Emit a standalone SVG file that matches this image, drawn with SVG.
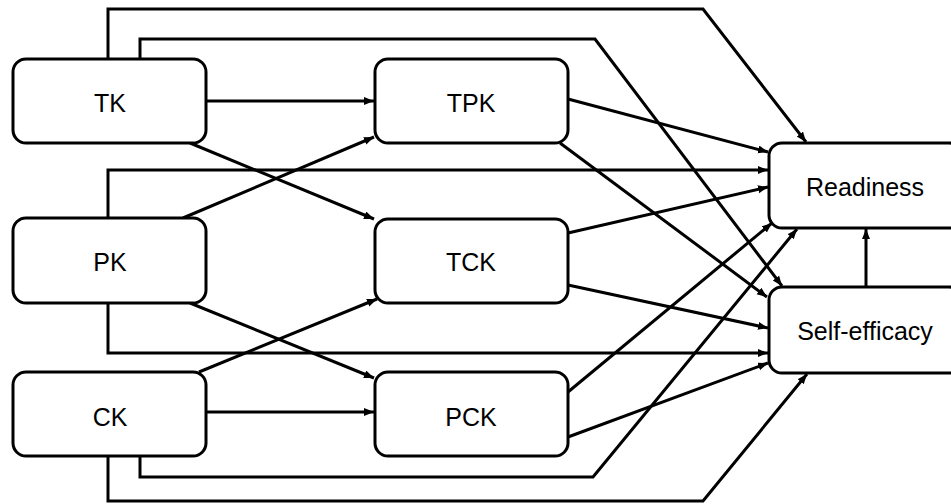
<svg xmlns="http://www.w3.org/2000/svg" width="951" height="504" viewBox="0 0 951 504">
<style>
.box{fill:#fff;stroke:#000;stroke-width:3}
.lbl{font-family:"Liberation Sans",Arial,sans-serif;font-size:25px;fill:#000;text-anchor:middle}
.c{fill:none;stroke:#000;stroke-width:3}
.a{marker-end:url(#ah)}
</style>
<defs>
<marker id="ah" markerUnits="userSpaceOnUse" markerWidth="11" markerHeight="9" refX="10" refY="4" orient="auto">
<path d="M0,0 L10,4 L0,8 z" fill="#000"/>
</marker>
</defs>
<rect width="951" height="504" fill="#fff"/>
<g id="connectors">
<path class="c a" d="M108,59 V9 H703 L806,142"/>
<path class="c a" d="M140,59 V39 H595 L782,286"/>
<path class="c a" d="M108,218 V170 H768"/>
<path class="c a" d="M108,303 V353 H768"/>
<path class="c a" d="M140,456 V477 H593 L797,229"/>
<path class="c a" d="M108,456 V501 H703 L807,374"/>
<path class="c a" d="M206,101 H374"/>
<path class="c a" d="M190,143 L374,219"/>
<path class="c a" d="M183,218 L374,137"/>
<path class="c a" d="M190,303 L374,378"/>
<path class="c a" d="M199,372 L377,299"/>
<path class="c a" d="M206,412 H374"/>
<path class="c a" d="M568,99 L768,152"/>
<path class="c a" d="M560,143 L767,297"/>
<path class="c a" d="M568,233 L768,187"/>
<path class="c a" d="M568,285 L768,328"/>
<path class="c a" d="M568,392 L772,223"/>
<path class="c a" d="M568,437 L768,363"/>
<path class="c a" d="M866,287 V229"/>
</g>
<g id="TK"><rect class="box" x="13" y="59" width="193" height="84" rx="13"/><text class="lbl" x="110" y="112">TK</text></g>
<g id="PK"><rect class="box" x="13" y="218" width="193" height="85" rx="13"/><text class="lbl" x="110" y="271">PK</text></g>
<g id="CK"><rect class="box" x="13" y="372" width="193" height="84" rx="13"/><text class="lbl" x="110" y="426">CK</text></g>
<g id="TPK"><rect class="box" x="375" y="59" width="193" height="84" rx="13"/><text class="lbl" x="471" y="112">TPK</text></g>
<g id="TCK"><rect class="box" x="375" y="219" width="193" height="84" rx="13"/><text class="lbl" x="471" y="271">TCK</text></g>
<g id="PCK"><rect class="box" x="375" y="372" width="193" height="84" rx="13"/><text class="lbl" x="471" y="426">PCK</text></g>
<g id="Readiness"><rect class="box" x="769" y="143" width="193" height="85" rx="13"/><text class="lbl" x="865" y="196">Readiness</text></g>
<g id="SelfEfficacy"><rect class="box" x="769" y="287" width="193" height="86" rx="13"/><text class="lbl" x="865" y="340">Self-efficacy</text></g>
</svg>
